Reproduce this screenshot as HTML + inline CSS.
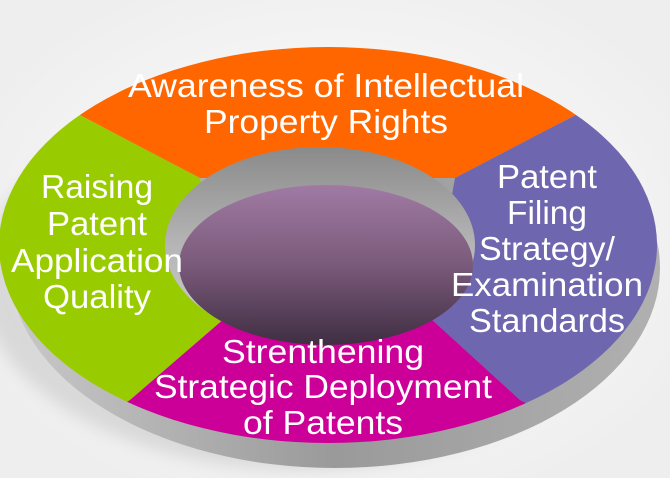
<!DOCTYPE html>
<html><head><style>html,body{margin:0;padding:0;background:#fff;}svg{display:block}</style></head>
<body>
<svg width="670" height="478" viewBox="0 0 670 478" xmlns="http://www.w3.org/2000/svg">
<defs>
<radialGradient id="bg" cx="0.5" cy="0.5" r="0.6">
<stop offset="0" stop-color="#ffffff"/><stop offset="1" stop-color="#eeeeee"/></radialGradient>
<linearGradient id="side" x1="0" y1="0" x2="1" y2="0">
<stop offset="0" stop-color="#c8c8c8"/><stop offset="0.5" stop-color="#9a9a9a"/><stop offset="1" stop-color="#b0b0b0"/></linearGradient>
<linearGradient id="hole" x1="0" y1="0" x2="0" y2="1">
<stop offset="0" stop-color="#8a8a8a"/><stop offset="0.5" stop-color="#b5b5b5"/><stop offset="1" stop-color="#d0d0d0"/></linearGradient>
<linearGradient id="disc" x1="0" y1="0" x2="0" y2="1">
<stop offset="0" stop-color="#a07aa3"/><stop offset="0.5" stop-color="#7a5a7a"/><stop offset="1" stop-color="#3f2e42"/></linearGradient>
<clipPath id="ring"><ellipse cx="328" cy="245" rx="329" ry="198"/></clipPath>
<filter id="blur"><feGaussianBlur stdDeviation="8"/></filter>
</defs>
<rect width="670" height="478" fill="url(#bg)"/>
<ellipse cx="300" cy="280" rx="320" ry="190" fill="#cfcfcf" filter="url(#blur)" opacity="0.7"/>
<ellipse cx="335" cy="268" rx="325" ry="200" fill="url(#side)"/>
<g clip-path="url(#ring)">
<polygon points="0,0 670,0 670,70 585,110 455,178 200,178 70,110 0,70" fill="#ff6600"/>
<polygon points="0,70 70,110 200,178 225,318 130,400 0,480" fill="#99cc00"/>
<polygon points="670,70 585,110 455,178 430,318 520,400 670,480" fill="#6e66ae"/>
<polygon points="130,400 225,318 430,318 520,400 670,480 0,480" fill="#cc0099"/>
</g>
<ellipse cx="320" cy="245" rx="155" ry="98" fill="url(#hole)"/>
<ellipse cx="326" cy="265" rx="147" ry="80" fill="url(#disc)"/>
<g font-family="Liberation Sans, sans-serif" font-size="33" fill="#fff" text-anchor="middle">
<text x="326" y="97" textLength="396" lengthAdjust="spacingAndGlyphs">Awareness of Intellectual</text>
<text x="326" y="133" textLength="244" lengthAdjust="spacingAndGlyphs">Property Rights</text>
<text x="97" y="198" textLength="112" lengthAdjust="spacingAndGlyphs">Raising</text>
<text x="97" y="235" textLength="100" lengthAdjust="spacingAndGlyphs">Patent</text>
<text x="97" y="272" textLength="172" lengthAdjust="spacingAndGlyphs">Application</text>
<text x="97" y="308" textLength="108" lengthAdjust="spacingAndGlyphs">Quality</text>
<text x="547" y="188" textLength="100" lengthAdjust="spacingAndGlyphs">Patent</text>
<text x="547" y="224" textLength="80" lengthAdjust="spacingAndGlyphs">Filing</text>
<text x="547" y="260" textLength="136" lengthAdjust="spacingAndGlyphs">Strategy/</text>
<text x="547" y="296" textLength="192" lengthAdjust="spacingAndGlyphs">Examination</text>
<text x="547" y="332" textLength="156" lengthAdjust="spacingAndGlyphs">Standards</text>
<text x="323" y="363" textLength="202" lengthAdjust="spacingAndGlyphs">Strenthening</text>
<text x="323" y="398" textLength="338" lengthAdjust="spacingAndGlyphs">Strategic Deployment</text>
<text x="323" y="434" textLength="160" lengthAdjust="spacingAndGlyphs">of Patents</text>
</g>
</svg>
</body></html>
